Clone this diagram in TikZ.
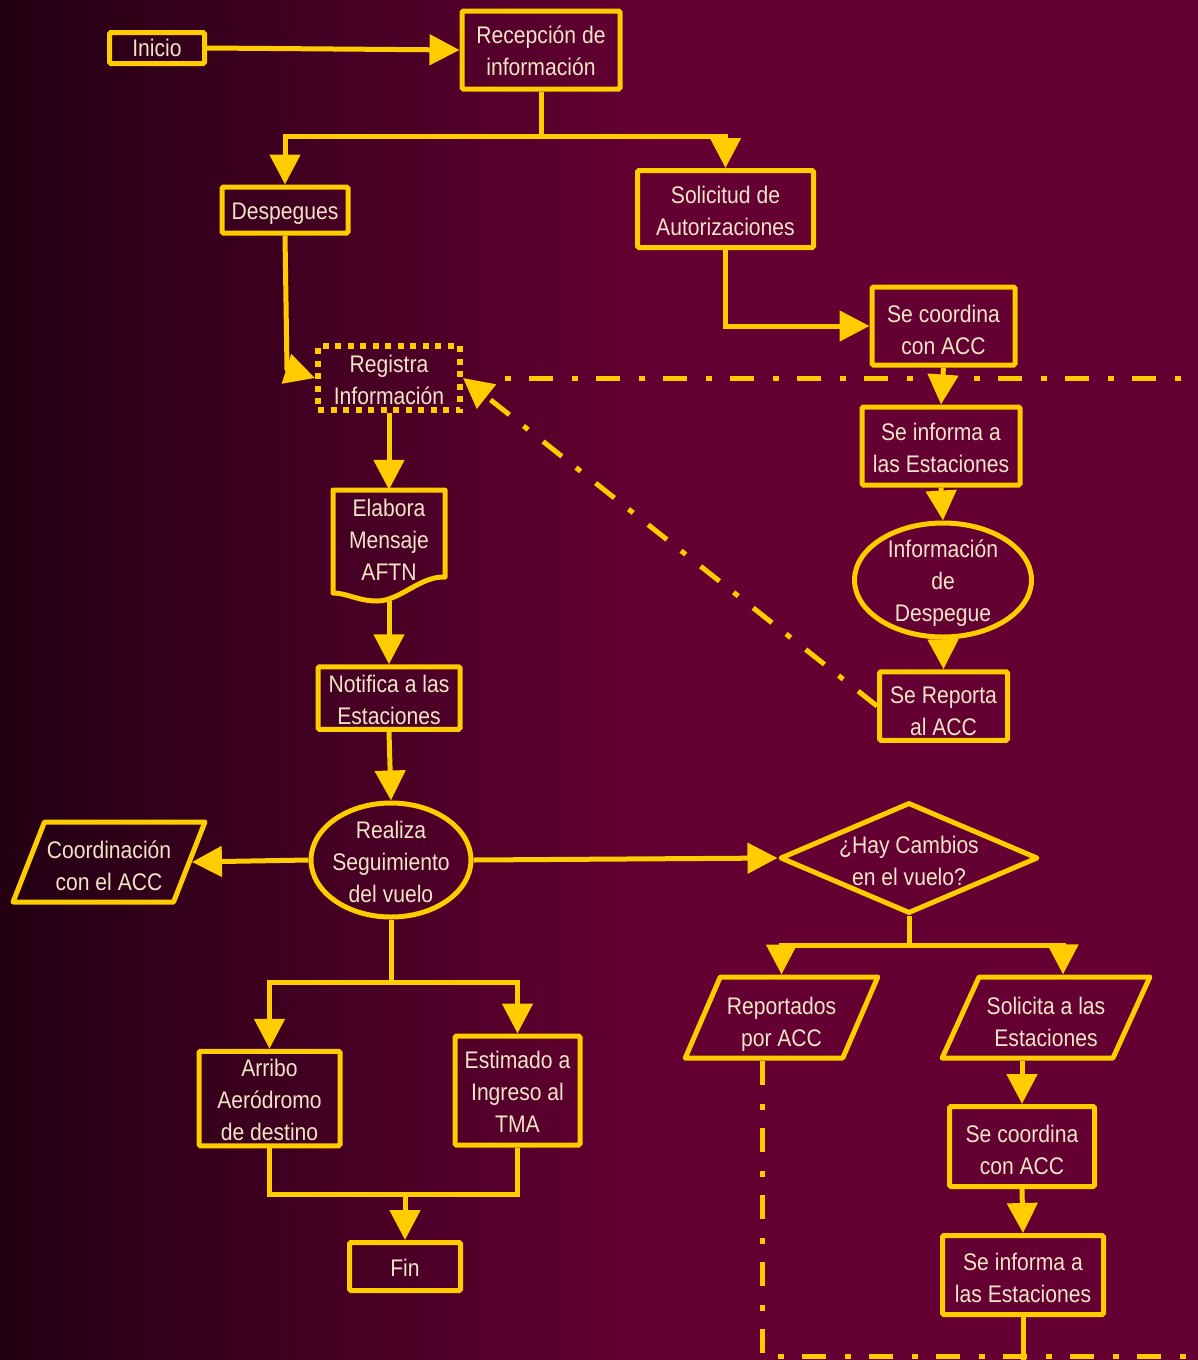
\documentclass[tikz,border=0pt]{standalone}
\usepackage{fontspec}
\setmainfont{Liberation Sans}[FakeStretch=0.88]
\usetikzlibrary{arrows.meta,shapes.geometric,calc}
\definecolor{gold}{RGB}{255,204,0}
\definecolor{cream}{RGB}{240,228,198}
\definecolor{bgL}{RGB}{34,0,18}
\definecolor{bgR}{RGB}{100,0,50}
\newcommand{\fsz}{\fontsize{24}{32}\selectfont}
\newcommand{\botstrut}{\rule[-5pt]{0pt}{5pt}}
\begin{document}
\begin{tikzpicture}[x=1pt,y=-1pt,
  tsh/.style={execute at begin node={\rule{0pt}{#1}}},
  box/.style={draw=gold,line width=5pt,rectangle,rounded corners=1.5pt,inner sep=0pt,text=cream,align=center,font=\fsz,execute at end node=\botstrut},
  lbl/.style={text=cream,align=center,font=\fsz,inner sep=0pt,execute at end node=\botstrut},
  ell/.style={draw=gold,line width=5pt,ellipse,inner sep=0pt},
  dia/.style={draw=gold,line width=5pt,diamond,inner sep=0pt,line join=round},
  para/.style={draw=gold,line width=5pt,trapezium,trapezium stretches=true,trapezium left angle=65.5,trapezium right angle=114.5,inner sep=0pt,text=cream,align=center,font=\fsz,line join=round,execute at end node=\botstrut},
  ln/.style={draw=gold,line width=5pt},
  tip/.style={-{Triangle[length=30pt,width=30pt]}},
  arr/.style={draw=gold,line width=5pt,tip},
  dd/.style={draw=gold,line width=5pt,dash pattern=on 24pt off 19pt on 6pt off 18pt},
  dd2/.style={dd,dash phase=43pt}]
\useasboundingbox (0,0) rectangle (1198,1360);
\shade[left color=bgL,right color=bgR] (0,0) rectangle (650,1360);
\fill[bgR] (649,0) rectangle (1198,1360);

% nodes
\node[box,tsh=22pt,minimum width=95pt,minimum height=31pt] (inicio) at (157,48) {Inicio};
\node[box,tsh=56.5pt,minimum width=158pt,minimum height=78pt] (recep) at (541,50) {Recepción de\\información};
\node[box,tsh=24pt,minimum width=126pt,minimum height=46pt] (desp) at (285,210) {Despegues};
\node[box,tsh=57.5pt,minimum width=176pt,minimum height=77pt] (solic) at (725.5,209) {Solicitud de\\Autorizaciones};
\node[box,tsh=61.5pt,minimum width=143pt,minimum height=78pt] (coordA) at (943.5,326) {Se coordina\\con ACC};
\node[box,tsh=57.5pt,rounded corners=0pt,line width=6pt,dash pattern=on 6pt off 6.5pt,minimum width=142pt,minimum height=64pt] (reg) at (389,378) {Registra\\Información};
\node[box,tsh=57.5pt,minimum width=158pt,minimum height=78pt] (infA) at (941,446) {Se informa a\\las Estaciones};
\node[ell,minimum width=177pt,minimum height=114pt,label={[lbl,tsh=87.5pt]center:Información\\de\\Despegue}] (infd) at (943,580) {};
\node[box,tsh=63.5pt,minimum width=128pt,minimum height=63pt] (srep) at (943.5,706) {Se Reporta\\al ACC};
\node[minimum width=112pt,minimum height=111pt,inner sep=0pt,label={[lbl,tsh=87.5pt,yshift=6pt]center:Elabora\\Mensaje\\AFTN}] (elab) at (389,545.5) {};
\draw[ln,line join=round] (333,490) -- (445,490) -- (445,577) .. controls (420,576) and (400,601) .. (377,601) .. controls (358,601) and (347,593) .. (333,593) -- cycle;
\node[box,tsh=57.5pt,minimum width=142pt,minimum height=62pt] (notif) at (389,698) {Notifica a las\\Estaciones};
\node[ell,minimum width=160pt,minimum height=114pt,label={[lbl,tsh=89.5pt]center:Realiza\\Seguimiento\\del vuelo}] (real) at (391,860) {};
\node[para,tsh=61.5pt,minimum width=192pt,minimum height=80pt] (coordB) at (109,862) {Coordinación\\con el ACC};
\node[dia,minimum width=258pt,minimum height=111pt,label={[lbl,tsh=57.5pt,yshift=-1pt]center:¿Hay Cambios\\en el vuelo?}] (dia) at (909,858) {};
\node[box,tsh=89.5pt,minimum width=141pt,minimum height=93pt] (arribo) at (269.5,1098.5) {Arribo\\Aeródromo\\de destino};
\node[box,tsh=89.5pt,minimum width=125pt,minimum height=109pt] (estim) at (517.5,1090.5) {Estimado a\\Ingreso al\\TMA};
\node[box,tsh=24pt,minimum width=111pt,minimum height=48pt] (fin) at (405,1266.5) {Fin};
\node[para,tsh=63.5pt,minimum width=193pt,minimum height=81pt] (report) at (781.5,1017.5) {Reportados\\por ACC};
\node[para,tsh=63.5pt,minimum width=208pt,minimum height=81pt,trapezium left angle=64.5,trapezium right angle=115.5] (solA) at (1046,1017.5) {Solicita a las\\Estaciones};
\node[box,tsh=61.5pt,minimum width=145pt,minimum height=80pt] (coordC) at (1022,1146.5) {Se coordina\\con ACC};
\node[box,tsh=59.5pt,minimum width=161pt,minimum height=79pt] (infB) at (1023,1275) {Se informa a\\las Estaciones};

% junctions and free ends
\coordinate (j1) at (541,136);
\coordinate (bend) at (287,369);
\coordinate (j2) at (391,982);
\coordinate (j3) at (405,1194);
\coordinate (j4) at (909,945);
\coordinate (hA) at (505,378);
\coordinate (hB) at (1215,378);
\coordinate (offB) at (1023,1370);
\coordinate (offC) at (1215,1356);

% connectors
\draw[arr] (inicio.east) -- (recep.west);
\draw[ln] (recep.south) -- (j1);
\draw[arr] (j1) -| (desp.north);
\draw[arr] (j1) -| (solic.north);
\draw[arr] (solic.south) |- (coordA.west);
\draw[arr] (desp.south) -- (bend) -- (reg.west);
\draw[dd2] (hA) -- (hB);
\draw[arr] (coordA.south) -- (infA.north);
\draw[arr] (infA.south) -- (infd.north);
\draw[arr] (infd.south) -- (srep.north);
\draw[dd,tip] (srep.west) -- (reg.east);
\draw[arr] (reg.south) -- (elab.north);
\draw[arr] (elab.south) -- (notif.north);
\draw[arr] (notif.south) -- (real.north);
\draw[arr] (real.west) -- (coordB.east);
\draw[arr] (real.east) -- (dia.west);
\draw[ln] (real.south) -- (j2);
\draw[arr] (j2) -| (arribo.north);
\draw[arr] (j2) -| (estim.north);
\draw[ln] (arribo.south) |- (j3);
\draw[ln] (estim.south) |- (j3);
\draw[arr] (j3) -- (fin.north);
\draw[ln] (dia.south) -- (j4);
\draw[arr] (j4) -| (report.north -| report.center);
\draw[arr] (j4) -| ($(solA.north -| solA.center)+(17,0)$);
\draw[arr] (coordC.north |- solA.south) -- (coordC.north);
\draw[arr] (coordC.south) -- (infB.north);
\draw[ln] (infB.south) -- (offB);
\draw[dd] ($(report.south -| report.center)+(-19,0)$) |- (offC);
\end{tikzpicture}
\end{document}
